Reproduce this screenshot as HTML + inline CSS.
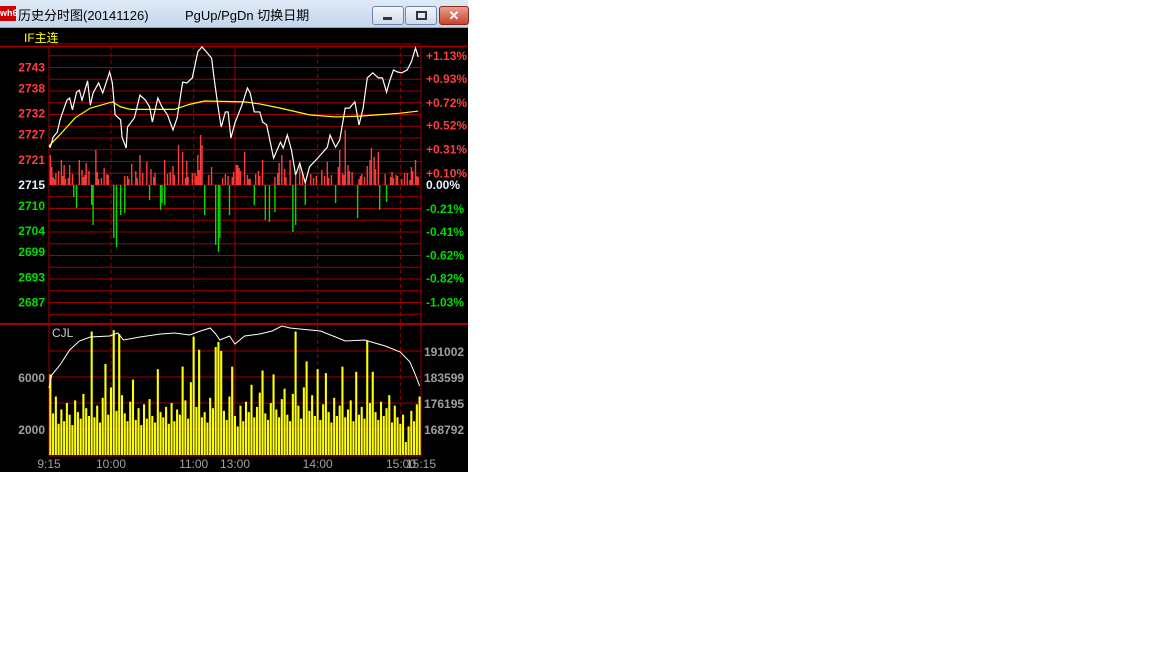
<!DOCTYPE html>
<html><head><meta charset="utf-8"><style>
body{margin:0;width:1152px;height:648px;background:#fff;overflow:hidden;font-family:"Liberation Sans","Noto Sans CJK SC",sans-serif}
#win{position:absolute;left:0;top:0;width:468px;height:472px;background:#000}
#title{position:absolute;left:0;top:0;width:468px;height:27px;background:linear-gradient(#dfeaf6,#c4d6ec);border-bottom:1px solid #8aa4c4}
.btn{position:absolute;top:6px;height:17px;border:1px solid #6d84a6;border-radius:3px;background:linear-gradient(#f3f6fa,#cfdbea)}
</style></head><body>
<div id="win">
<div id="title">
 <div style="position:absolute;left:0;top:6px;width:16px;height:15px;background:#c00;color:#fff;font-size:9px;font-weight:bold;line-height:15px">wh6</div>
 <div style="position:absolute;left:18px;top:5px;font-size:13px;color:#000;font-family:'Liberation Sans','Noto Sans CJK SC',sans-serif">历史分时图(20141126)</div>
 <div style="position:absolute;left:185px;top:5px;font-size:13px;color:#000">PgUp/PgDn 切换日期</div>
 <div class="btn" style="left:372px;width:30px"><div style="position:absolute;left:10px;top:10px;width:9px;height:3px;background:#334"></div></div>
 <div class="btn" style="left:405px;width:30px"><div style="position:absolute;left:10px;top:4px;width:7px;height:5px;border:2px solid #334"></div></div>
 <div class="btn" style="left:439px;width:28px;background:linear-gradient(#e8a090,#c8442c);border-color:#8a2a1a;color:#fff;font-weight:bold;font-size:13px;text-align:center;line-height:17px">✕</div>
</div>
<svg id="chart" width="468" height="472" style="position:absolute;left:0;top:0"></svg>
</div>
<script>
const priceMin=[0,1,3,6,8,10,13,15,17,20,22,24,28,30,32,36,39,44,46,48,52,53,56,57,62,66,70,73,75,79,82,86,90,93,97,100,104,108,111,115,118,120,123,125,128,130,132,135,140,144,146,149,153,155,158,163,168,170,173,176,179,182,186,189,195,202,204,208,211,215,218,222,225,228,231,235,239,242,245,247,250,253,256,260,263,266,268];
const prices=[2724.3,2724.0,2726.4,2727.6,2730.5,2732.4,2735.2,2735.7,2732.9,2737.1,2737.6,2735.2,2739.8,2734.0,2736.9,2739.3,2736.9,2741.9,2739.3,2731.7,2730.5,2726.4,2723.8,2728.8,2731.0,2736.4,2735.2,2733.6,2730.0,2735.7,2733.6,2731.7,2728.1,2731.0,2739.5,2739.3,2740.5,2746.7,2747.9,2746.4,2745.2,2740.0,2732.9,2728.8,2732.4,2732.4,2726.2,2729.8,2734.0,2738.1,2736.9,2732.4,2732.4,2730.0,2729.3,2721.4,2725.2,2723.8,2726.9,2723.3,2717.4,2720.2,2715.5,2719.3,2721.4,2724.0,2726.9,2724.0,2725.7,2733.3,2733.3,2734.8,2729.3,2733.3,2740.5,2741.7,2740.5,2740.5,2737.1,2739.5,2742.4,2741.9,2741.7,2742.4,2744.3,2747.6,2745.5];
const avgMin=[0,8,19,30,46,52,59,91,102,113,142,153,168,189,208,226,255,268];
const avgPrice=[2724.3,2727.0,2731.0,2733.3,2734.8,2733.6,2733.0,2733.0,2734.2,2735.0,2734.8,2734.3,2733.3,2731.7,2731.2,2731.4,2732.1,2732.6];
const flowMin=[1,9,15,22,34,66,71,77,84,94,97,108,110,111,136,142,155,169,175,182,211,215,234,233,239,266,3,5,12,26,29,38,42,55,58,88,101,104,116,126,130,139,146,150,164,179,192,200,205,220,225,229,244,250,253,258,262,268,2,4,7,10,11,14,17,24,25,27,35,36,40,43,57,60,63,64,68,74,76,86,90,91,99,100,106,107,109,118,128,133,134,137,138,144,145,152,153,166,167,171,172,184,190,194,198,202,203,210,213,214,217,218,226,227,231,236,237,248,249,252,256,260,263,264,267,18,20,31,32,47,49,52,55,73,81,82,84,113,121,123,124,131,149,157,160,164,177,179,186,208,224,240,245];
const flowVal=[30,25,20,25,35,30,23,12,25,40,33,30,50,40,20,33,25,30,25,20,35,55,37,25,33,25,8,12,6,10,14,7,11,9,6,13,8,12,10,7,9,14,6,11,8,12,7,9,10,13,6,8,11,7,9,12,5,8,18,6,14,9,20,7,11,15,8,22,13,6,17,10,9,21,14,7,12,16,8,11,19,10,7,24,12,9,15,18,11,8,13,20,17,10,6,14,9,12,22,16,8,13,11,9,15,23,7,18,12,10,20,14,9,11,19,28,16,8,13,10,6,12,18,14,9,-12,-23,-20,-40,-53,-62,-30,-28,-15,-25,-18,-20,-30,-60,-67,-53,-30,-20,-35,-37,-27,-47,-40,-20,-18,-33,-25,-17];
const volumes=[6200,3200,4500,2400,3500,2600,4000,3100,2300,4200,3300,2800,4700,3600,3000,9500,2900,3800,2500,4400,7000,3100,5200,9600,3400,9300,4600,3200,2600,4100,5800,2700,3600,2300,3900,2800,4300,3000,2500,6600,3300,2900,3700,2400,4000,2600,3500,3100,6800,4200,2800,5600,9100,3700,8100,2900,3300,2500,4400,3600,8300,8700,8000,3400,2700,4500,6800,3000,2200,3800,2600,4100,3300,5400,2900,3700,4800,6500,3200,2700,4000,6200,3500,2900,4300,5100,3100,2600,4700,9500,3800,2800,5200,7200,3400,4600,3000,6600,2700,3900,6300,3300,2500,4400,3000,3800,6800,2900,3500,4200,2600,6400,3100,3700,2800,8800,4000,6400,3300,2700,4100,3000,3600,4600,2500,3800,2900,2400,3100,1000,2200,3400,2600,3900,4500];
const cumMin=[0,2,8,15,22,30,44,50,54,66,81,91,102,110,117,121,124,131,135,142,153,162,169,175,182,197,208,215,229,244,255,262,266,269];
const cumVal=[180465,184166,187013,191283,193846,194984,195269,196123,194130,194984,195839,196123,195554,196693,197547,195839,194130,195269,192992,195269,195839,196693,198116,197547,197262,196693,194984,193846,194130,192422,190714,187867,184166,181034];
const leftPrices=["2743","2738","2732","2727","2721","2715","2710","2704","2699","2693","2687"];
const rightPcts=["+1.13%","+0.93%","+0.72%","+0.52%","+0.31%","+0.10%","0.00%","-0.21%","-0.41%","-0.62%","-0.82%","-1.03%"];
const volLeft=["6000","2000"];
const cumLabels=["191002","183599","176195","168792"];
const timeLabels=["9:15","10:00","11:00","13:00","14:00","15:00","15:15"];

const NS="http://www.w3.org/2000/svg",svg=document.getElementById('chart');
const L=49,R=421;
const xOf=m=>L+m*(R-L)/270;
const yP=p=>185-(p-2715)*4.2;
const yF=v=>185-v;
const yV=v=>455-v*0.013;
const yC=c=>429-(c-168792)/284.7;
function mk(t,a,txt){const e=document.createElementNS(NS,t);for(const k in a)e.setAttribute(k,a[k]);if(txt!=null)e.textContent=txt;svg.appendChild(e);return e;}
const G="#a00000";
let e=mk('text',{x:24,y:42,fill:'#ffff00','font-size':12,'font-family':'Liberation Sans,Noto Sans CJK SC,sans-serif'},'IF主连');


for(let k=-12;k<=11;k++){const y=185+k*11.75;
 e=mk('line',{x1:L,x2:R,y1:y,y2:y,stroke:G,'stroke-width':1});
 
 }
e=mk('line',{x1:0,x2:468,y1:46.5,y2:46.5,stroke:G,'stroke-width':1.5});


e=mk('line',{x1:0,x2:468,y1:324,y2:324,stroke:G,'stroke-width':2});


[351,377,403,429].forEach(y=>{e=mk('line',{x1:L,x2:R,y1:y,y2:y,stroke:G});
 
 });
e=mk('line',{x1:L,x2:R,y1:456,y2:456,stroke:G});


[[0,0],[45,1],[105,1],[135,0],[195,1],[255,1],[270,0]].forEach(([m,d])=>{
 e=mk('line',{x1:xOf(m),x2:xOf(m),y1:46,y2:456,stroke:G,'stroke-width':1,'stroke-dasharray':d?'4,3':'none'});
 
 });
flowMin.forEach((m,i)=>{const v=flowVal[i],x=xOf(m);
 if(v===undefined)return;
 e=mk('line',{x1:x,x2:x,y1:185,y2:yF(v),stroke:v>0?'#ff3c3c':'#00dd00','stroke-width':1.4});
 
 });
e=mk('polyline',{points:avgMin.map((m,i)=>xOf(m)+','+yP(avgPrice[i])).join(' '),fill:'none',stroke:'#ffff00','stroke-width':1.2});


e=mk('polyline',{points:priceMin.map((m,i)=>xOf(m)+','+yP(prices[i])).join(' '),fill:'none',stroke:'#fff','stroke-width':1.2});


volumes.forEach((v,i)=>{const x=xOf(i*2)+0.3;
 e=mk('rect',{x:x,y:yV(v),width:2.1,height:455-yV(v),fill:'#ffff00'});
 
 });
e=mk('polyline',{points:cumMin.map((m,i)=>xOf(m)+','+yC(cumVal[i])).join(' '),fill:'none',stroke:'#fff','stroke-width':1});


e=mk('text',{x:52,y:337,fill:'#ccc','font-size':12},'CJL');


leftPrices.forEach((t,i)=>{const p=+t;const c=p>2715?'#ff3c3c':p<2715?'#00dd00':'#e8f0ff';
 e=mk('text',{x:45,y:yP(p)+4,fill:c,'font-size':12,'font-weight':'bold','text-anchor':'end'},t);
 
 });
rightPcts.forEach((t,i)=>{const v=parseFloat(t);const c=v>0?'#ff3c3c':v<0?'#00dd00':'#e8f0ff';
 e=mk('text',{x:426,y:yP(2715*(1+v/100))+4,fill:c,'font-size':12,'font-weight':'bold'},t);
 
 });
volLeft.forEach(t=>{e=mk('text',{x:45,y:yV(+t)+5,fill:'#a0a0a0','font-size':12,'font-weight':'bold','text-anchor':'end'},t);
 
 });
cumLabels.forEach(t=>{e=mk('text',{x:424,y:yC(+t)+5,fill:'#a0a0a0','font-size':12,'font-weight':'bold'},t);
 
 });
const tMins=[0,45,105,135,195,255,270];
timeLabels.forEach((t,i)=>{let x=xOf(tMins[i]),anc='middle';if(i==6){x=436;anc='end';}if(i==5)x=401;
 e=mk('text',{x:x,y:468,fill:'#a0a0a0','font-size':12,'text-anchor':anc},t);
 
 });
</script>
</body></html>
